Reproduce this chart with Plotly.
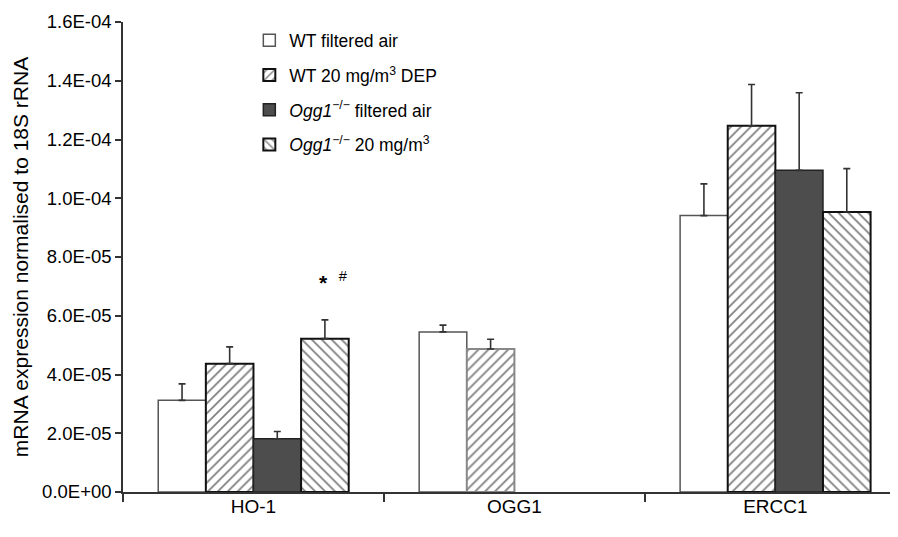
import plotly.graph_objects as go

categories = ["HO-1", "OGG1", "ERCC1"]
series_names = [
    "WT filtered air",
    "WT 20 mg/m<sup>3</sup> DEP",
    "<i>Ogg1</i><sup>−/−</sup> filtered air",
    "<i>Ogg1</i><sup>−/−</sup> 20 mg/m<sup>3</sup>",
]
wt_air = [3.12e-5, 5.45e-5, 9.41e-5]
wt_air_err = [0.56e-5, 0.23e-5, 1.08e-5]
wt_dep = [4.37e-5, 4.87e-5, 12.47e-5]
wt_dep_err = [0.57e-5, 0.33e-5, 1.40e-5]
ogg_air = [1.81e-5, None, 10.95e-5]
ogg_air_err = [0.25e-5, None, 2.64e-5]
ogg_dep = [5.22e-5, None, 9.53e-5]
ogg_dep_err = [0.64e-5, None, 1.48e-5]

y_tickvals = [0, 2e-5, 4e-5, 6e-5, 8e-5, 1e-4, 1.2e-4, 1.4e-4, 1.6e-4]
y_ticktext = ["0.0E+00", "2.0E-05", "4.0E-05", "6.0E-05", "8.0E-05",
              "1.0E-04", "1.2E-04", "1.4E-04", "1.6E-04"]

values = [wt_air, wt_dep, ogg_air, ogg_dep]
errors = [wt_air_err, wt_dep_err, ogg_air_err, ogg_dep_err]
fills = ["white", "white", "#4d4d4d", "white"]
patterns = ["", "/", "", "\\"]
outline = ["#555555", ["#111111", "#888888", "#111111"], "#222222", "#111111"]
outline_w = [1.5, 2, 1.5, 2]

FONT = "Liberation Sans, Arial, sans-serif"

fig = go.Figure()
for i in range(4):
    marker = dict(color=fills[i], line=dict(color=outline[i], width=outline_w[i]))
    if patterns[i]:
        marker["pattern"] = dict(shape=patterns[i], fgcolor="black", bgcolor="white",
                                 size=7, solidity=0.25)
    fig.add_trace(go.Bar(
        x=categories, y=values[i], name=series_names[i],
        marker=marker, legendgroup=f"g{i}",
        error_y=dict(type="data", symmetric=False, array=errors[i],
                     arrayminus=[0 if e is not None else None for e in errors[i]],
                     color="#333333", thickness=1.6, width=3.5),
    ))

fig.add_annotation(x="HO-1", y=7.2e-5, xref="x", yref="y",
                   text="<b>*</b>  <sup>#</sup>", showarrow=False, xshift=80,
                   font=dict(size=21, color="black", family=FONT))

fig.update_layout(
    width=890, height=529,
    margin=dict(l=115, r=0, t=14, b=45),
    plot_bgcolor="white", paper_bgcolor="white",
    barmode="group", bargap=0.27, bargroupgap=0,
    font=dict(family=FONT, color="black", size=17),
    legend=dict(x=0.163, y=0.999, xanchor="left", yanchor="top",
                bgcolor="rgba(0,0,0,0)", tracegroupgap=9,
                font=dict(size=17.5)),
    xaxis=dict(range=[-0.5, 2.47], showline=True, linecolor="#333333", linewidth=1.5,
               ticks="outside", tickson="boundaries", ticklen=8, tickcolor="#333333",
               tickwidth=1.5, tickfont=dict(size=19), showgrid=False,
               ticklabelstandoff=-4),
    yaxis=dict(range=[0, 1.6e-4], tickvals=y_tickvals, ticktext=y_ticktext,
               showline=True, linecolor="#333333", linewidth=1.5, ticks="outside",
               ticklen=6, tickcolor="#333333", tickwidth=1.5, showgrid=False,
               zeroline=False, tickfont=dict(size=18.5),
               title=dict(text="mRNA expression normalised to 18S rRNA",
                          font=dict(size=21), standoff=8)),
)

fig.write_html("out.html")
